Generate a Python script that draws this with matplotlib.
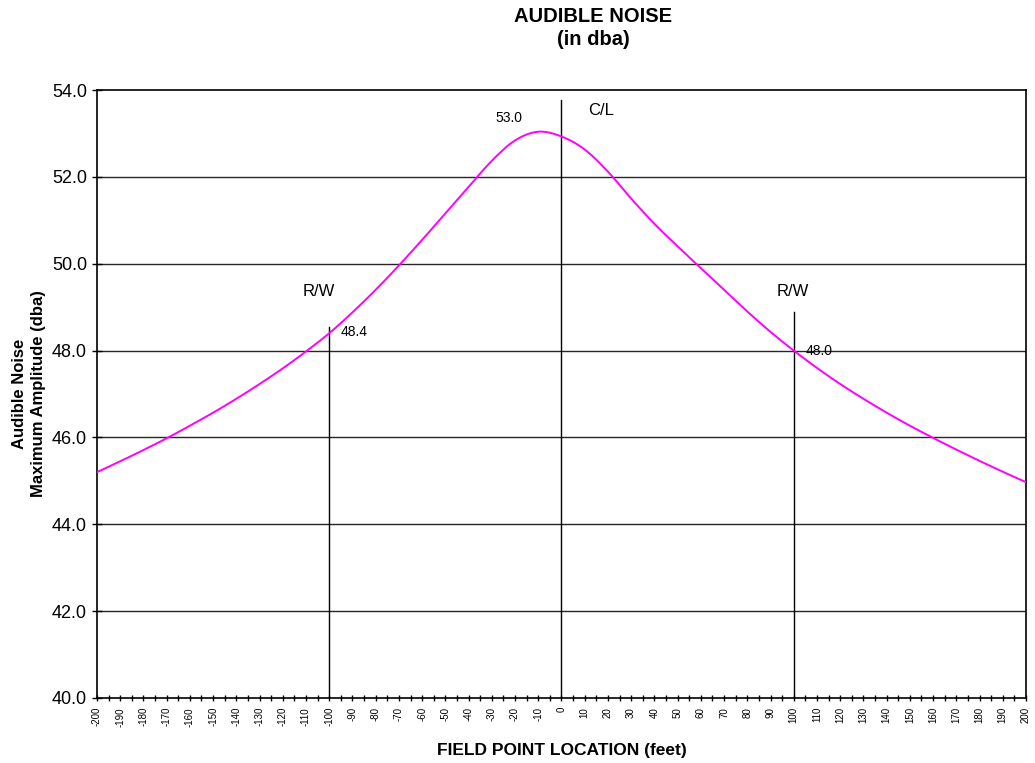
import matplotlib
matplotlib.use("Agg")
import matplotlib.pyplot as plt
import numpy as np

# field point location (feet) and audible noise (dba)
location = [-200, -190, -180, -170, -160, -150, -140, -130, -120, -110, -100,
            -90, -80, -70, -60, -50, -40, -30, -20, -10, 0,
            10, 20, 30, 40, 50, 60, 70, 80, 90, 100,
            110, 120, 130, 140, 150, 160, 170, 180, 190, 200]
noise = [45.20, 45.45, 45.71, 45.98, 46.27, 46.57, 46.89, 47.23, 47.59, 47.98, 48.40,
         48.88, 49.40, 49.96, 50.55, 51.16, 51.77, 52.37, 52.84, 53.04, 52.93,
         52.63, 52.12, 51.50, 50.92, 50.40, 49.90, 49.40, 48.90, 48.43, 48.00,
         47.60, 47.23, 46.89, 46.57, 46.27, 45.99, 45.72, 45.46, 45.21, 44.97]

# marker lines: x position and top value
marker_x = [-100, 0, 100]
marker_top = [48.55, 53.77, 48.88]

# (text, x, y, fontsize)
labels = [("53.0", -22.6, 53.36, 10), ("C/L", 17.2, 53.52, 12),
          ("R/W", -104.6, 49.36, 12), ("R/W", 99.5, 49.36, 12),
          ("48.4", -89.3, 48.43, 10), ("48.0", 110.9, 48.0, 10)]


def smooth(xs, ys, n=12):
    # cubic hermite through the points, like the smoothed excel line
    xs = np.asarray(xs, float)
    ys = np.asarray(ys, float)
    m = np.gradient(ys, xs)
    outx, outy = [], []
    for i in range(len(xs) - 1):
        h = xs[i + 1] - xs[i]
        t = np.linspace(0, 1, n, endpoint=False)
        h00 = 2 * t**3 - 3 * t**2 + 1
        h10 = t**3 - 2 * t**2 + t
        h01 = -2 * t**3 + 3 * t**2
        h11 = t**3 - t**2
        outx.extend(xs[i] + t * h)
        outy.extend(h00 * ys[i] + h10 * h * m[i] + h01 * ys[i + 1] + h11 * h * m[i + 1])
    outx.append(xs[-1])
    outy.append(ys[-1])
    return outx, outy


plt.rcParams['font.family'] = ['Liberation Sans', 'DejaVu Sans']

fig = plt.figure(figsize=(10.35, 7.63), dpi=100)
ax = fig.add_axes([0.0937, 0.0852, 0.8976, 0.7968])

for y in np.arange(42, 54, 2):
    ax.axhline(y, color='#262626', lw=1.0, zorder=1)

for x, top in zip(marker_x, marker_top):
    ax.plot([x, x], [40, top], color='black', lw=1.0, zorder=2)

sx, sy = smooth(location, noise)
ax.plot(sx, sy, color='#ff00ff', lw=1.4, zorder=3)

for txt, x, y, fs in labels:
    ax.text(x, y, txt, ha='center', va='center', fontsize=fs)

ax.set_xlim(-200, 200)
ax.set_ylim(40, 54)
yt = np.arange(40, 54.1, 2)
ax.set_yticks(yt)
ax.set_yticklabels(["%.1f" % v for v in yt], fontsize=13)
ax.set_xticks(np.arange(-200, 201, 10))
ax.set_xticklabels([str(v) for v in range(-200, 201, 10)], rotation=90, fontsize=7)
ax.set_xticks(np.arange(-200, 201, 5), minor=True)
ax.tick_params(axis='x', which='both', direction='inout', length=5, width=1,
               color='black', pad=4)
ax.tick_params(axis='y', which='both', direction='inout', length=7.2, width=1,
               color='black', pad=3.5)
for s in ax.spines.values():
    s.set_color('black')
    s.set_linewidth(1.2)

fig.text(0.543, 0.017, "FIELD POINT LOCATION (feet)", ha='center', va='center',
         fontsize=12.5, fontweight='bold')
fig.text(0.028, 0.4836, "Audible Noise\nMaximum Amplitude (dba)", ha='center', va='center',
         rotation=90, multialignment='center', fontsize=12, fontweight='bold',
         linespacing=1.29)
fig.text(0.573, 0.963, "AUDIBLE NOISE\n(in dba)", ha='center', va='center',
         fontsize=14.5, fontweight='bold', linespacing=1.3)

fig.savefig("out.png", dpi=100)
